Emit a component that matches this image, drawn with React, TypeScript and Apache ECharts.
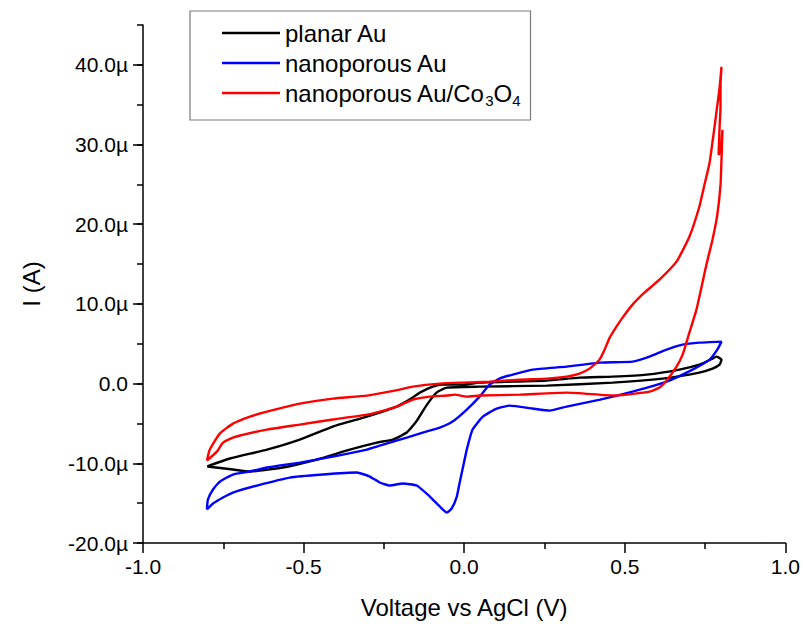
import React, { useEffect, useRef } from "react";
import * as echarts from "echarts";

// Potential (V vs AgCl) and current (µA) traced around each closed CV loop
const planarV = [-0.80, -0.729, -0.614, -0.512, -0.409, -0.303, -0.210, -0.170, -0.138, -0.098, -0.067, -0.005, 0.048, 0.151, 0.257, 0.359, 0.462, 0.568, 0.670, 0.732, 0.773, 0.785, 0.801, 0.795, 0.773, 0.732, 0.617, 0.462, 0.257, 0.048, -0.054, -0.086, -0.117, -0.148, -0.179, -0.222, -0.272, -0.356, -0.459, -0.565, -0.667, -0.720, -0.80];
const planarI = [-10.4, -9.4, -8.28, -7.02, -5.39, -4.14, -2.88, -2.01, -1.13, -0.38, -0.13, -0.13, 0.13, 0.25, 0.38, 0.75, 0.88, 1.13, 1.76, 2.38, 3.13, 3.39, 3.01, 2.38, 1.88, 1.38, 0.63, 0.13, -0.25, -0.38, -0.5, -1.13, -2.7, -4.7, -6.14, -7.02, -7.4, -8.28, -9.53, -10.53, -11.03, -10.78, -10.4];

const npV = [-0.801, -0.782, -0.751, -0.720, -0.645, -0.543, -0.440, -0.334, -0.294, -0.263, -0.232, -0.191, -0.148, -0.107, -0.076, -0.054, -0.039, -0.023, -0.014, -0.002, 0.008, 0.026, 0.058, 0.101, 0.142, 0.213, 0.266, 0.319, 0.423, 0.524, 0.630, 0.711, 0.764, 0.788, 0.801, 0.732, 0.680, 0.630, 0.577, 0.524, 0.423, 0.319, 0.213, 0.151, 0.110, 0.079, 0.048, 0.008, -0.036, -0.076, -0.129, -0.179, -0.232, -0.303, -0.409, -0.512, -0.614, -0.667, -0.720, -0.760, -0.782, -0.798, -0.801];
const npI = [-15.80, -15.05, -14.29, -13.67, -12.79, -11.79, -11.41, -11.16, -11.66, -12.41, -12.79, -12.54, -12.79, -14.17, -15.42, -16.18, -15.67, -14.17, -12.41, -10.16, -8.28, -5.77, -4.14, -3.13, -2.76, -3.13, -3.39, -2.88, -2.01, -1.00, 0.25, 1.76, 3.01, 4.26, 5.27, 5.14, 4.89, 4.26, 3.39, 2.76, 2.63, 2.13, 1.76, 1.13, 0.63, -0.13, -1.63, -3.26, -4.76, -5.52, -6.14, -6.77, -7.40, -8.28, -9.15, -9.91, -10.53, -11.03, -11.41, -12.29, -13.29, -14.55, -15.80];

const coV = [-0.801, -0.792, -0.761, -0.720, -0.667, -0.614, -0.512, -0.409, -0.303, -0.201, -0.160, -0.076, -0.005, 0.079, 0.173, 0.257, 0.319, 0.359, 0.390, 0.421, 0.437, 0.453, 0.474, 0.493, 0.524, 0.561, 0.608, 0.661, 0.701, 0.732, 0.748, 0.764, 0.776, 0.785, 0.795, 0.801, 0.798, 0.798, 0.795, 0.792, 0.798, 0.804, 0.801, 0.798, 0.788, 0.773, 0.754, 0.723, 0.701, 0.680, 0.661, 0.630, 0.608, 0.577, 0.474, 0.319, 0.173, 0.048, 0.008, -0.030, -0.054, -0.107, -0.160, -0.210, -0.263, -0.303, -0.409, -0.512, -0.614, -0.720, -0.751, -0.770, -0.801];
const coI = [-9.66, -8.28, -6.27, -5.02, -4.14, -3.51, -2.51, -1.88, -1.50, -0.75, -0.38, 0.0, 0.13, 0.25, 0.50, 0.63, 0.88, 1.25, 1.88, 3.01, 4.26, 5.77, 7.15, 8.28, 9.91, 11.41, 13.04, 15.30, 18.43, 22.19, 24.95, 27.71, 31.22, 33.98, 37.12, 39.75, 37.49, 34.73, 32.10, 28.71, 29.09, 31.85, 28.09, 24.95, 21.19, 18.06, 14.92, 9.28, 6.39, 3.64, 2.13, 0.38, -0.50, -1.00, -1.50, -1.13, -1.38, -1.50, -1.63, -1.38, -1.50, -1.63, -2.01, -2.88, -3.51, -3.89, -4.51, -5.14, -5.77, -6.77, -7.40, -8.53, -9.66];

const seriesNames = ["planar Au", "nanoporous Au", "nanoporous Au/Co3O4"];
const seriesColors = ["#000000", "#0000ff", "#ff0000"];
const yMajorTicks = [-20, -10, 0, 10, 20, 30, 40];

const FONT = "'Liberation Sans', Arial, sans-serif";

const pairs = (xs: number[], ys: number[]) => xs.map((x, i) => [x, ys[i]]);

export default function App() {
  const ref = useRef<HTMLDivElement>(null);
  useEffect(() => {
    if (!ref.current) return;
    const chart = echarts.init(ref.current, null, { renderer: "svg" });
    const axisLine = { show: true, onZero: false, lineStyle: { color: "#000", width: 1.5 } };
    const datasets = [pairs(planarV, planarI), pairs(npV, npI), pairs(coV, coI)];
    chart.setOption({
      animation: false,
      backgroundColor: "#fff",
      grid: { left: 143, right: 17, top: 25, bottom: 80 },
      legend: {
        orient: "vertical",
        left: 190,
        top: 11,
        itemWidth: 58,
        itemHeight: 2.5,
        itemGap: 0,
        icon: "rect",
        padding: [7, 10, 12, 32],
        borderColor: "#7a7a7a",
        borderWidth: 1.2,
        backgroundColor: "#fff",
        data: seriesNames.map((n) => ({ name: n, icon: "rect" })),
        formatter: (name: string) =>
          name === "nanoporous Au/Co3O4" ? "nanoporous Au/Co{s|3}O{s|4}" : name,
        textStyle: {
          fontSize: 24,
          lineHeight: 30,
          color: "#000",
          fontFamily: FONT,
          rich: {
            s: { fontSize: 15, lineHeight: 30, verticalAlign: "bottom", color: "#000", fontFamily: FONT },
          },
        },
      },
      xAxis: {
        type: "value",
        min: -1,
        max: 1,
        interval: 0.5,
        name: "Voltage vs AgCl (V)",
        nameLocation: "middle",
        nameGap: 52,
        nameTextStyle: { fontSize: 24, color: "#000", fontFamily: FONT },
        axisLine,
        axisTick: { show: true, length: 10, lineStyle: { color: "#000", width: 1.5 } },
        minorTick: { show: true, splitNumber: 2, length: 6, lineStyle: { color: "#000", width: 1.5 } },
        axisLabel: {
          fontSize: 21,
          color: "#000",
          fontFamily: FONT,
          margin: 13,
          formatter: (v: number) => v.toFixed(1),
        },
        splitLine: { show: false },
      },
      yAxis: [
        {
          type: "value",
          min: -20,
          max: 45,
          interval: 5,
          name: "I (A)",
          nameLocation: "middle",
          nameGap: 100,
          nameTextStyle: { fontSize: 24, color: "#000", fontFamily: FONT },
          axisLine,
          axisTick: { show: true, length: 6, lineStyle: { color: "#000", width: 1.5 } },
          axisLabel: {
            fontSize: 21,
            color: "#000",
            fontFamily: FONT,
            margin: 15,
            formatter: (v: number) => {
              if (!yMajorTicks.includes(v)) return "";
              return v === 0 ? "0.0" : v.toFixed(1) + "µ";
            },
          },
          splitLine: { show: false },
        },
        {
          type: "value",
          min: -20,
          max: 45,
          interval: 10,
          position: "left",
          axisLine: { show: false, onZero: false },
          axisTick: { show: true, length: 10, customValues: yMajorTicks, lineStyle: { color: "#000", width: 1.5 } },
          axisLabel: { show: false },
          splitLine: { show: false },
        },
      ],
      series: seriesNames.map((name, i) => ({
        name,
        type: "line",
        data: datasets[i],
        symbol: "none",
        smooth: 0.15,
        color: seriesColors[i],
        lineStyle: { color: seriesColors[i], width: 2.4 },
        z: 2 + i,
      })),
    });
    return () => chart.dispose();
  }, []);
  return (
    <div
      ref={ref}
      style={{ position: "fixed", left: 0, top: 0, width: 803, height: 624, background: "#fff" }}
    />
  );
}
